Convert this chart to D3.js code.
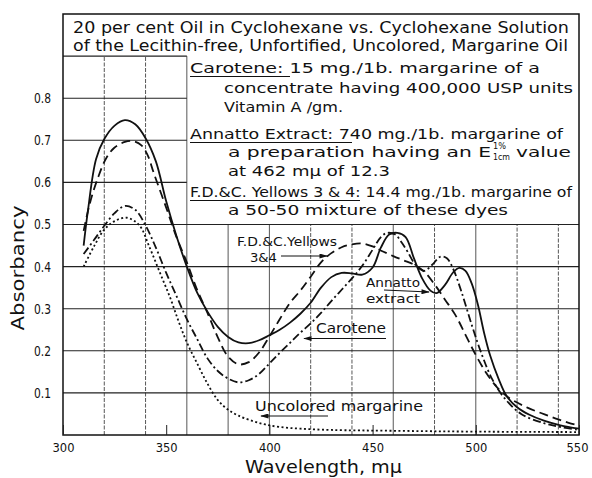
<!DOCTYPE html>
<html>
<head>
<meta charset="utf-8">
<script src="https://cdn.jsdelivr.net/npm/d3@7"></script>
<style>
body { margin: 0; background: #fff; }
text { font-family: "DejaVu Sans", sans-serif; fill: #111; }
</style>
</head>
<body>
<script>
// wavelength (m\u03bc) and absorbancy
var annattoNm  = [310, 312, 316, 320, 325, 330, 335, 340, 345, 350, 355, 360, 365, 370, 375, 380, 385, 390, 395, 400, 405, 410, 415, 420, 425, 430, 435, 440, 445, 450, 454, 458, 462, 466, 470, 474, 478, 481, 485, 489, 492, 495, 498, 501, 504, 507, 511, 515, 520, 526, 533, 541, 550];
var annattoAbs = [0.45, 0.53, 0.655, 0.703, 0.735, 0.748, 0.738, 0.705, 0.65, 0.555, 0.472, 0.40, 0.338, 0.293, 0.257, 0.233, 0.22, 0.218, 0.225, 0.237, 0.25, 0.267, 0.288, 0.314, 0.35, 0.375, 0.385, 0.384, 0.381, 0.398, 0.445, 0.476, 0.48, 0.47, 0.42, 0.372, 0.343, 0.337, 0.356, 0.386, 0.397, 0.39, 0.36, 0.31, 0.243, 0.188, 0.134, 0.092, 0.066, 0.048, 0.034, 0.023, 0.015];

var yellowsNm  = [310, 313, 317, 321, 325, 330, 334, 338, 341, 344, 350, 355, 360, 365, 370, 375, 380, 385, 390, 395, 400, 405, 410, 415, 420, 425, 430, 435, 440, 445, 450, 455, 460, 465, 470, 475, 480, 485, 490, 495, 500, 505, 510, 515, 520, 525, 530, 535, 540, 545, 550];
var yellowsAbs = [0.485, 0.55, 0.612, 0.658, 0.683, 0.696, 0.698, 0.688, 0.665, 0.622, 0.54, 0.47, 0.41, 0.345, 0.29, 0.232, 0.186, 0.168, 0.173, 0.196, 0.234, 0.275, 0.314, 0.343, 0.376, 0.41, 0.432, 0.446, 0.453, 0.455, 0.448, 0.436, 0.425, 0.415, 0.405, 0.388, 0.358, 0.322, 0.286, 0.238, 0.19, 0.148, 0.115, 0.092, 0.077, 0.065, 0.055, 0.046, 0.037, 0.029, 0.022];

var caroteneNm  = [310, 315, 320, 325, 330, 335, 340, 345, 350, 355, 360, 365, 370, 375, 380, 385, 390, 395, 400, 405, 410, 415, 420, 425, 430, 435, 440, 445, 450, 454, 457, 461, 464, 467, 471, 475, 479, 483, 486, 489, 493, 498, 503, 508, 514, 522, 533, 541, 550];
var caroteneAbs = [0.43, 0.463, 0.497, 0.527, 0.544, 0.535, 0.498, 0.445, 0.385, 0.33, 0.275, 0.228, 0.182, 0.152, 0.134, 0.125, 0.13, 0.145, 0.17, 0.195, 0.219, 0.243, 0.265, 0.29, 0.318, 0.345, 0.372, 0.402, 0.44, 0.47, 0.48, 0.476, 0.458, 0.435, 0.403, 0.39, 0.405, 0.424, 0.42, 0.395, 0.341, 0.262, 0.19, 0.132, 0.087, 0.05, 0.028, 0.019, 0.012];

var uncoloredNm  = [310, 315, 320, 325, 331, 337, 342, 347, 352, 356, 360, 365, 370, 375, 380, 385, 392, 398, 405, 415, 430, 460, 500, 550];
var uncoloredAbs = [0.40, 0.448, 0.488, 0.508, 0.516, 0.498, 0.445, 0.385, 0.325, 0.27, 0.22, 0.17, 0.122, 0.083, 0.06, 0.046, 0.033, 0.025, 0.019, 0.015, 0.012, 0.01, 0.008, 0.007];

var xTicks = [300, 350, 400, 450, 500, 550];
var yTicks = [0.1, 0.2, 0.3, 0.4, 0.5, 0.6, 0.7, 0.8];
var xGrid = [320, 340, 360, 380, 400, 420, 440, 460, 480, 500, 520, 540];
var yGrid = [0.1, 0.2, 0.3, 0.4, 0.5, 0.6, 0.7, 0.8, 0.9];

var width = 592, height = 478;

var svg = d3.select("body").append("svg")
  .attr("width", width)
  .attr("height", height);

var x = d3.scaleLinear().domain([300, 550]).range([63, 579]);
var y = d3.scaleLinear().domain([0, 1]).range([435, 14]);

// arrow head
svg.append("defs").append("marker")
  .attr("id", "arrow")
  .attr("viewBox", "0 0 10 6")
  .attr("refX", 9).attr("refY", 3)
  .attr("markerWidth", 9).attr("markerHeight", 5)
  .attr("markerUnits", "userSpaceOnUse")
  .attr("orient", "auto")
  .append("path").attr("d", "M0,0L10,3L0,6Z").attr("fill", "#111");

// grid: the text box covers the upper right part
var solidV = [360, 380, 400, 460, 500];
svg.append("g").selectAll("line").data(xGrid).enter().append("line")
  .attr("x1", d => x(d)).attr("x2", d => x(d))
  .attr("y1", y(0))
  .attr("y2", d => d <= 360 ? y(0.9) : y(0.5))
  .attr("stroke", "#444")
  .attr("stroke-width", 0.9)
  .attr("stroke-dasharray", d => solidV.indexOf(d) >= 0 ? null : "4,1.5");

svg.append("g").selectAll("line").data(yGrid).enter().append("line")
  .attr("x1", x(300))
  .attr("x2", d => d > 0.5 ? x(360) : x(550))
  .attr("y1", d => y(d)).attr("y2", d => y(d))
  .attr("stroke", "#222")
  .attr("stroke-width", 1.1);

// frame
svg.append("rect")
  .attr("x", x(300)).attr("y", y(1))
  .attr("width", x(550) - x(300)).attr("height", y(0) - y(1))
  .attr("fill", "none").attr("stroke", "#111").attr("stroke-width", 1.5);

// axes
var xaxis = d3.axisBottom(x).tickValues(xTicks).tickSize(-10).tickPadding(8).tickFormat(d3.format("d"));
var gx = svg.append("g").attr("transform", "translate(0," + y(0) + ")").call(xaxis);
gx.select(".domain").remove();
gx.selectAll("line").attr("stroke", "#222");
gx.selectAll("text").attr("font-size", 13).attr("font-family", "DejaVu Sans")
  .attr("textLength", 22).attr("lengthAdjust", "spacingAndGlyphs").attr("fill", "#111");
// the last label sits at the very edge of the page
gx.selectAll("text").filter(d => d === 550).attr("dx", -2);

var yaxis = d3.axisLeft(y).tickValues(yTicks).tickSize(0).tickPadding(12).tickFormat(d3.format(".1f"));
var gy = svg.append("g").attr("transform", "translate(" + x(300) + ",0)").call(yaxis);
gy.select(".domain").remove();
gy.selectAll("text").attr("font-size", 14).attr("font-family", "DejaVu Sans")
  .attr("textLength", 17).attr("lengthAdjust", "spacingAndGlyphs").attr("fill", "#111");

// curves
var series = [
  {nm: annattoNm, abs: annattoAbs, dash: null},
  {nm: yellowsNm, abs: yellowsAbs, dash: "9,5"},
  {nm: caroteneNm, abs: caroteneAbs, dash: "8,3,2,3"},
  {nm: uncoloredNm, abs: uncoloredAbs, dash: "2,2.5"}
];

var line = d3.line()
  .x(d => x(d[0]))
  .y(d => y(d[1]))
  .curve(d3.curveCatmullRom.alpha(0.5));

svg.append("g").selectAll("path").data(series).enter().append("path")
  .attr("d", s => line(s.nm.map((n, i) => [n, s.abs[i]])))
  .attr("fill", "none")
  .attr("stroke", "#111")
  .attr("stroke-width", 1.8)
  .attr("stroke-dasharray", s => s.dash);

// text helper
function label(str, px, py, size, len) {
  var t = svg.append("text").attr("x", px).attr("y", py).attr("font-size", size).text(str);
  if (len) t.attr("textLength", len).attr("lengthAdjust", "spacingAndGlyphs");
  return t;
}
function rule(x1, y1, x2, y2, arrow) {
  var l = svg.append("line").attr("x1", x1).attr("y1", y1).attr("x2", x2).attr("y2", y2)
    .attr("stroke", "#111").attr("stroke-width", 1);
  if (arrow) l.attr("marker-end", "url(#arrow)");
}

// title
label("20 per cent Oil in Cyclohexane vs. Cyclohexane Solution", 73, 33, 15, 496);
label("of the Lecithin-free, Unfortified, Uncolored, Margarine Oil", 73, 51, 15, 495);

// description box
label("Carotene: 15 mg./1b. margarine of a", 190, 73, 14, 350);
rule(190, 76.5, 290, 76.5);
label("concentrate having 400,000 USP units", 224, 93, 14, 349);
label("Vitamin A /gm.", 224, 112, 14, 119);
label("Annatto Extract: 740 mg./1b. margarine of", 190, 139, 14, 373);
rule(190, 142.5, 352, 142.5);
label("a preparation having an E", 228, 157, 14, 263);
label("1%", 493, 149, 9, 13);
label("1cm", 493, 160, 9, 17);
label("value", 516, 157, 14, 55);
label("at 462 m\u03bc of 12.3", 228, 176, 14, 162);
label("F.D.&C. Yellows 3 & 4: 14.4 mg./1b. margarine of", 190, 197, 13.5, 382);
rule(190, 200.5, 360, 200.5);
label("a 50-50 mixture of these dyes", 228, 215, 14, 280);

// curve labels
label("F.D.&C.Yellows", 237, 246, 12, 100);
label("3&4", 250, 262, 12, 27);
rule(281, 256, 327, 256, true);

label("Annatto", 366, 287, 13, 54);
label("extract", 366, 303, 13, 54);
rule(384, 290, 429, 292, true);

label("Carotene", 316, 333, 13.5, 70);
rule(386, 338.5, 304, 338.5, true);

label("Uncolored margarine", 255, 411, 13.5, 168);
rule(328, 416, 261, 416, true);

// axis titles
svg.append("text")
  .attr("transform", "translate(24,268) rotate(-90)")
  .attr("text-anchor", "middle")
  .attr("font-size", 17)
  .attr("textLength", 125).attr("lengthAdjust", "spacingAndGlyphs")
  .text("Absorbancy");

label("Wavelength, m\u03bc", 245, 473, 17, 157);
</script>
</body>
</html>
